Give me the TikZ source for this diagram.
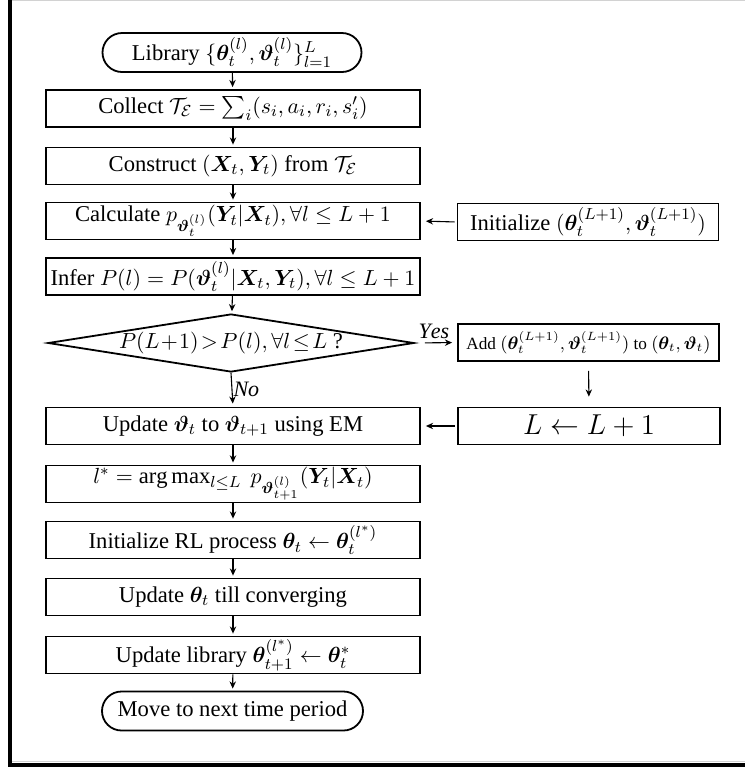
\documentclass[tikz,border=0pt]{standalone}
\usepackage{amsmath,amssymb,bm}
\usepackage{fontspec}
\setmainfont{Liberation Serif}
\usetikzlibrary{shapes.geometric,shapes.misc,arrows.meta}
\tikzset{
  box/.style={draw, line width=0.9pt, rectangle, minimum width=187pt, minimum height=18.5pt, inner sep=1pt, font=\fontsize{11.3}{13}\selectfont},
  rbox/.style={draw, line width=0.9pt, rectangle, minimum width=130.5pt, minimum height=18.5pt, inner sep=1pt, font=\fontsize{11.3}{13}\selectfont},
  term/.style={draw, line width=0.9pt, rounded rectangle, minimum width=131.5pt, minimum height=19.5pt, inner sep=1pt, font=\fontsize{11.3}{13}\selectfont},
  dec/.style={draw, line width=0.9pt, diamond, minimum width=183pt, minimum height=29pt, inner sep=0pt, font=\fontsize{11.3}{13}\selectfont},
  arr/.style={-{Stealth[length=3.6pt,width=3.2pt]}, line width=0.55pt},
  lbl/.style={font=\fontsize{11}{13}\selectfont, inner sep=0.5pt}
}
\begin{document}
\begin{tikzpicture}[x=0.5pt,y=-0.5pt]
\useasboundingbox (0,0) rectangle (745,767);
% frame
\draw[line width=0.5pt, gray!35] (11,0.5) -- (745,0.5);
\draw[line width=0.5pt, gray!35] (11,761.5) -- (745,761.5);
\draw[line width=2pt] (9.5,0) -- (9.5,767);
\draw[line width=2.2pt] (8,765) -- (745,765);
% main column
\node[term] (lib) at (232,52.5) {Library $\{\bm{\theta}_t^{(l)}, \bm{\vartheta}_t^{(l)}\}_{l=1}^L$};
\node[box] (collect) at (233,108.5) {Collect $\mathcal{T}_\mathcal{E} = \sum_i (s_i, a_i, r_i, s'_i)$};
\node[box] (construct) at (233,166) {Construct $(\bm{X}_t, \bm{Y}_t)$ from $\mathcal{T}_\mathcal{E}$};
\node[box] (calc) at (233,221) {Calculate $p_{\bm{\vartheta}_t^{(l)}}(\bm{Y}_t|\bm{X}_t), \forall l \leq L+1$};
\node[box] (infer) at (233,276.5) {Infer $P(l) = P(\bm{\vartheta}_t^{(l)}|\bm{X}_t, \bm{Y}_t), \forall l \leq L+1$};
\node[dec] (dec) at (231,343) {\makebox[0pt]{$P(L\!+\!1)\!>\!P(l), \forall l\!\leq\! L$ ?}};
\node[box] (upd) at (233,426) {Update $\bm{\vartheta}_t$ to $\bm{\vartheta}_{t+1}$ using EM};
\node[box] (lstar) at (233,484) {$l^* = \arg\max_{l \leq L}\ p_{\bm{\vartheta}_{t+1}^{(l)}}(\bm{Y}_t|\bm{X}_t)$};
\node[box] (initrl) at (233,540) {Initialize RL process $\bm{\theta}_t \leftarrow \bm{\theta}_t^{(l^*)}$};
\node[box] (updth) at (233,597) {Update $\bm{\theta}_t$ till converging};
\node[box] (updlib) at (233,655) {Update library $\bm{\theta}_{t+1}^{(l^*)} \leftarrow \bm{\theta}_t^*$};
\node[term, minimum width=132.5pt] (move) at (232.5,711) {Move to next time period};
% right column
\node[rbox] (init) at (588,222) {Initialize $(\bm{\theta}_t^{(L+1)}, \bm{\vartheta}_t^{(L+1)})$};
\node[rbox, font=\fontsize{8.6}{10}\selectfont] (add) at (588.5,342.5) {Add $(\bm{\theta}_t^{(L+1)}, \bm{\vartheta}_t^{(L+1)})$ to $(\bm{\theta}_t, \bm{\vartheta}_t)$};
\node[rbox, minimum width=131pt, font=\fontsize{14}{16}\selectfont] (lbox) at (589,426) {$L \leftarrow L+1$};
% arrows
\foreach \a/\b in {lib/collect, collect/construct, construct/calc, calc/infer, infer/dec, upd/lstar, lstar/initrl, initrl/updth, updth/updlib, updlib/move}
  \draw[arr, shorten >=1pt] (\a) -- (\b);
\draw[arr, shorten >=1.5pt] (dec.south) -- node[lbl, right, pos=0.5] {$\mathit{No}$} (upd.north);
\draw[arr, shorten <=5pt, shorten >=2.5pt] (dec.east) -- node[lbl, above=1.5pt, pos=0.45] {$\mathit{Yes}$} (add.west);
\draw[arr, shorten <=1pt, shorten >=2.5pt] (init.west) -- (calc.east);
\draw[arr, shorten <=4.5pt, shorten >=5pt] (add.south) -- (lbox.north);
\draw[arr, shorten <=1pt, shorten >=2.5pt] (lbox.west) -- (upd.east);
\end{tikzpicture}
\end{document}
